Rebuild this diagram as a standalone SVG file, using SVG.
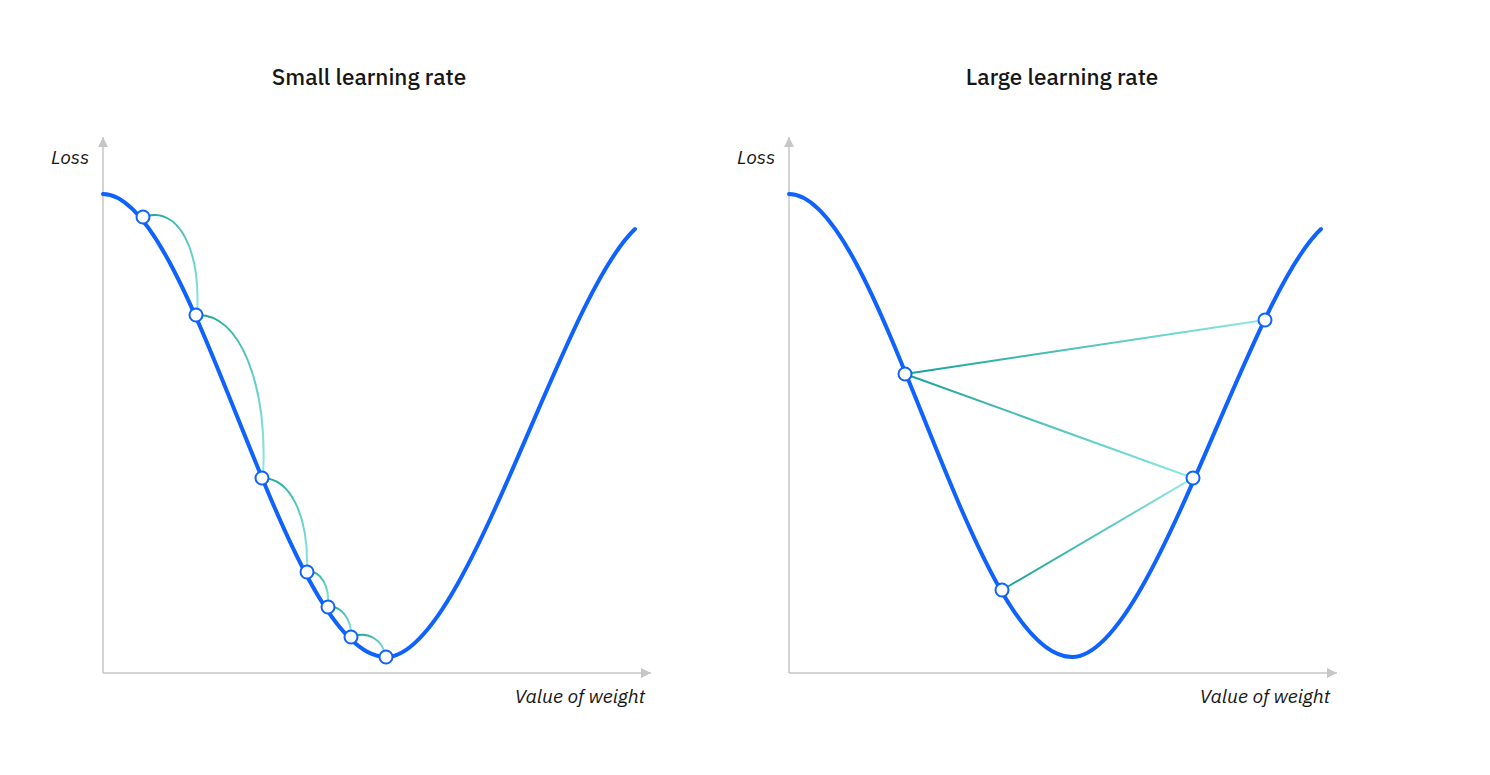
<svg xmlns="http://www.w3.org/2000/svg" width="1490" height="775" viewBox="0 0 1490 775">
<defs>
<style>
.title{font-family:"IBM Plex Sans","Noto Sans","Open Sans",sans-serif;font-size:22.5px;font-weight:500;fill:#161616}
.lbl{font-family:"IBM Plex Sans","Noto Sans","Open Sans",sans-serif;font-size:19.5px;font-style:italic;fill:#161616}
.axis{stroke:#c6c6c6;stroke-width:1.5;fill:none}
.curve{stroke:#0f62fe;stroke-width:4;fill:none;stroke-linecap:round}
.step{fill:none;stroke-width:2}
.pt{fill:#fff;stroke:#0f62fe;stroke-width:2}
</style>
<marker id="ah" viewBox="0 0 10 10" refX="10" refY="5" markerWidth="10" markerHeight="10" markerUnits="userSpaceOnUse" orient="auto">
<path d="M0,0 L10,5 L0,10 z" fill="#c6c6c6"/>
</marker>
<linearGradient id="ga" x1="0" y1="0" x2="1" y2="1">
<stop offset="0" stop-color="#17a097"/><stop offset="1" stop-color="#8ee8e4"/>
</linearGradient>
<linearGradient id="g1" gradientUnits="userSpaceOnUse" x1="905" y1="374" x2="1265" y2="320">
<stop offset="0" stop-color="#17a097"/><stop offset="1" stop-color="#8ee8e4"/>
</linearGradient>
<linearGradient id="g2" gradientUnits="userSpaceOnUse" x1="905" y1="374" x2="1193" y2="478">
<stop offset="0" stop-color="#17a097"/><stop offset="1" stop-color="#8ee8e4"/>
</linearGradient>
<linearGradient id="g3" gradientUnits="userSpaceOnUse" x1="1002" y1="590" x2="1193" y2="478">
<stop offset="0" stop-color="#17a097"/><stop offset="1" stop-color="#8ee8e4"/>
</linearGradient>
</defs>
<rect width="1490" height="775" fill="#fff"/>

<g id="small-chart">
<text class="title" x="369" y="85" text-anchor="middle">Small learning rate</text>
<text class="lbl" x="51" y="164">Loss</text>
<text class="lbl" x="645" y="703" text-anchor="end">Value of weight</text>
<path class="axis" d="M103,673 V137" marker-end="url(#ah)"/>
<path class="axis" d="M103,673 H651" marker-end="url(#ah)"/>
<path class="curve" d="M103,194 C195,194 284,657 386,657 C466,657 560,300 635,229"/>
</g>

<g id="large-chart">
<text class="title" x="1062" y="85" text-anchor="middle">Large learning rate</text>
<text class="lbl" x="737" y="164">Loss</text>
<text class="lbl" x="1330" y="703" text-anchor="end">Value of weight</text>
<path class="axis" d="M789,673 V137" marker-end="url(#ah)"/>
<path class="axis" d="M789,673 H1337" marker-end="url(#ah)"/>
<path class="curve" d="M789,194 C881,194 970,657 1072,657 C1152,657 1246,300 1321,229"/>
</g>

<g id="connectors">
<path class="step" stroke="url(#ga)" d="M143,217 C180,205 201,252 197,315"/>
<path class="step" stroke="url(#ga)" d="M196,315 C240,312 268,385 263,478"/>
<path class="step" stroke="url(#ga)" d="M262,478 C290,478 309,515 307,572"/>
<path class="step" stroke="url(#ga)" d="M307,572 C320,570 330,585 328,607"/>
<path class="step" stroke="url(#ga)" d="M328,607 C340,605 352,618 351,637"/>
<path class="step" stroke="url(#ga)" d="M351,637 C368,630 383,640 386,657"/>
<line class="step" stroke="url(#g1)" x1="905" y1="374" x2="1265" y2="320"/>
<line class="step" stroke="url(#g2)" x1="905" y1="374" x2="1193" y2="478"/>
<line class="step" stroke="url(#g3)" x1="1002" y1="590" x2="1193" y2="478"/>
</g>

<g id="small-points">
<circle class="pt" cx="143" cy="217" r="6.5"/>
<circle class="pt" cx="196" cy="315" r="6.5"/>
<circle class="pt" cx="262" cy="478" r="6.5"/>
<circle class="pt" cx="307" cy="572" r="6.5"/>
<circle class="pt" cx="328" cy="607" r="6.5"/>
<circle class="pt" cx="351" cy="637" r="6.5"/>
<circle class="pt" cx="386" cy="657" r="6.5"/>
</g>

<g id="large-points">
<circle class="pt" cx="905" cy="374" r="6.5"/>
<circle class="pt" cx="1002" cy="590" r="6.5"/>
<circle class="pt" cx="1193" cy="478" r="6.5"/>
<circle class="pt" cx="1265" cy="320" r="6.5"/>
</g>
</svg>
